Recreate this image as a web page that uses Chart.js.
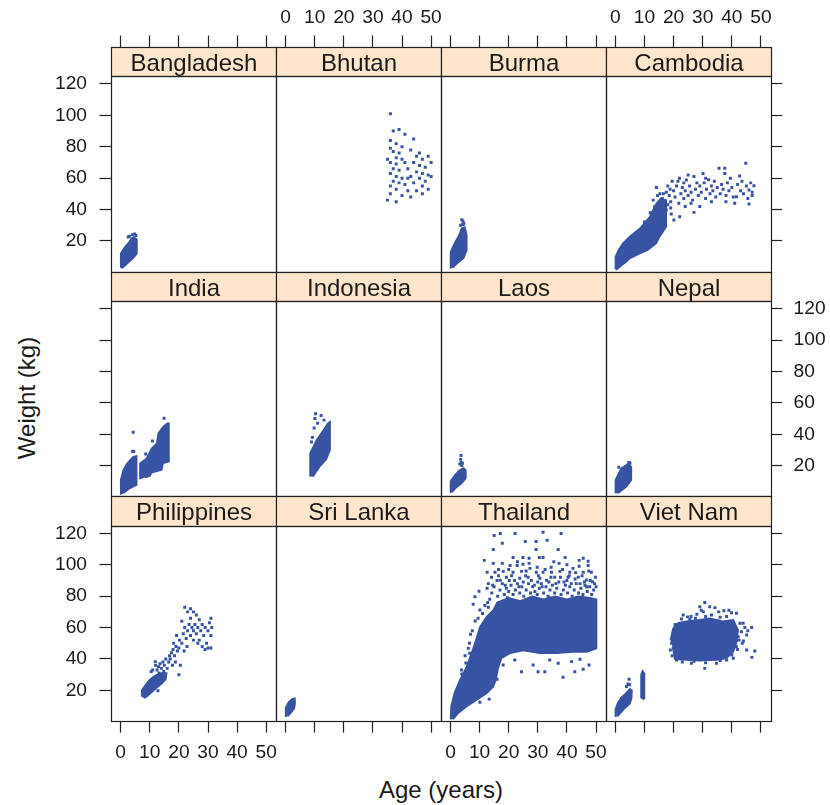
<!DOCTYPE html>
<html lang="en">
<head>
<meta charset="UTF-8">
<title>Weight by age, by country</title>
<script src="https://cdn.jsdelivr.net/npm/chart.js"></script>
<style>
  body { margin: 0; background: #fff; }
  #wrap { position: relative; width: 830px; height: 805px; font-family: "Liberation Sans", Arial, sans-serif; color: #1a1a1a; }
  #wrap canvas { position: absolute; left: 0; top: 0; }
  .lab { position: absolute; font-size: 24px; line-height: 24px; white-space: nowrap; }
  #xlab { left: 441px; top: 778px; transform: translateX(-50%); }
  #ylab { left: 27px; top: 398px; transform: translate(-50%, -50%) rotate(-90deg); }
</style>
</head>
<body>
<div id="wrap">
  <div class="lab" id="xlab">Age (years)</div>
  <div class="lab" id="ylab">Weight (kg)</div>
</div>

<script>
const countries = ['Bangladesh', 'Bhutan', 'Burma', 'Cambodia',
                   'India', 'Indonesia', 'Laos', 'Nepal',
                   'Philippines', 'Sri Lanka', 'Thailand', 'Viet Nam'];
const ageTicks = [0, 10, 20, 30, 40, 50];
const weightTicks = [20, 40, 60, 80, 100, 120];

// dense parts of each cloud as outlines [age, weight], loose points as [age, weight]
const bangladeshDense = [[[0,3],[0,12],[1,15],[2,17.5],[3,19.5],[3.6,21.5],[4.5,22.5],[5.6,21],[5.6,12],[4.5,9.5],[2.5,6],[1,3.5],[0.3,2.5]]];
const bangladeshPts = [[4,24],[3,23],[5.2,23.5],[2.6,22.5],[4.8,24.5]];

const bhutanDense = [];
const bhutanPts = [[36,101],[37,90],[39,91],[41,88],[36,84],[38,82],[40,80],[36,79],[37,77],[39,76],[43,78],[45,74],
  [38,73],[40,72],[47,72],[49,74],[36,70],[38,69],[41,70],[44,70],[46,68],[48,67],[50,70],[37,66],[39,65],[42,66],
  [45,64],[47,63],[49,62],[36,63],[38,61],[40,60],[43,61],[46,60],[48,58],[50,61],[37,58],[39,57],[41,56],[44,57],
  [47,55],[36,55],[38,53],[42,52],[45,52],[49,53],[36,50],[40,49],[43,48],[47,50],[35,46],[38,45],[42,60],[44,85],
  [46,76],[35,72]];

const burmaDense = [[[0,2.5],[0,13],[1.5,19],[3,24],[3.8,28],[4.9,29],[5.6,24],[5.6,14],[4.5,9],[2.5,6],[0.8,3]]];
const burmaPts = [[3.9,33.5],[4.3,32.5],[4.6,31],[4.2,30.5],[3.5,30]];

const cambodiaDense = [[[0,2],[0,10],[1,14],[2.6,18.5],[5,23],[8.4,28],[11.8,35.5],[13,40],[14.1,44],[15.5,47],[17.5,46],
  [17.5,29],[15,22],[14.1,18.5],[11,14],[8.4,12],[5,9],[3.8,6.8],[1.5,3.5],[0.3,1.5]]];
const cambodiaPts = [[14.1,54],[13,46],[15.3,50],[17.5,51],[16.1,47],[18.5,49],[19,45],[20,52],[20.5,48],[21,55],
  [21.8,44],[22.1,35.4],[20.1,33.3],[19.2,37.2],[17.5,39.7],[16.5,42],[22.5,50],[23,54],[23.5,47],[24,52],[24.4,58.8],
  [25,49],[25.5,55],[26,51],[26.5,46],[27,61],[27,38.2],[27.5,53],[28,57],[28.5,49],[29,55],[29.5,51],[30.1,63],
  [30.5,57],[31,47],[31.3,53],[32,59],[32.5,50],[33,55],[33.5,52],[34,58],[34.5,48],[35,54],[35.6,66.3],[36,50],
  [36.5,56],[37,53],[37.6,66.3],[37.6,63],[38,49],[38.5,57],[39,52],[39.5,60],[40,54],[40.5,48],[41,44],[41.6,48.2],
  [42,56],[42.7,61.4],[43,52],[43.5,58],[44,50],[44.8,69.5],[45,55],[45.5,47],[45.9,52.4],[45.9,43.5],[46.5,57],
  [47,51],[47.6,55.2],[47,49],[26,44],[24,42],[29,42],[33,45],[38,45],[18,55],[19.5,58],[22,60],[25,62],[31,60],
  [16,44],[18,43],[17,36],[15,30],[19,41],[14.5,49],[16.5,50],[12,38],[10,32],[13.5,42],[18.8,53],[21.5,58],[23.5,57]];

const indiaDense = [
  [[0,1.5],[0,11],[0.9,17.3],[2,21],[3.2,23.6],[4.3,25.7],[5.5,26.2],[5.5,7.7],[3.2,5.6],[1,2.4]],
  [[6.6,11.3],[6.6,21.5],[8.9,24.7],[10.6,31],[12.4,34.3],[12.9,40.6],[14.6,44.9],[16,47],[16.6,47],[16.6,22.5],
   [14.6,21.5],[14.1,17.3],[10.6,15.5],[10,13.4],[8.3,12.5]]];
const indiaPts = [[4.3,41.3],[4.5,29],[4.1,29.2],[14.9,50.2],[10.9,35.7],[8.6,27.4]];

const indonesiaDense = [[[8.4,13],[8.4,28],[9.5,32],[10.5,36],[12,40],[13.5,44],[14.5,47],[15.3,48],[15.3,30],
  [14,24],[12,20],[10.5,16],[9.5,13]]];
const indonesiaPts = [[10.3,53],[10.1,50],[11,47],[9.8,44],[12.2,52],[13.2,49],[9.2,38],[8.9,35]];

const laosDense = [[[0,2.5],[0,10],[1.5,14],[3,17],[4.5,18.5],[5.3,17],[5.3,12],[4,9],[2,6],[0.5,3]]];
const laosPts = [[3.6,26.5],[3.5,24],[3.7,22],[3.2,21],[4.1,21.5],[3.9,20]];

const nepalDense = [[[0,2.4],[0,10.9],[2,18.3],[4.3,21.1],[5.5,19.4],[5.5,10.9],[3.8,6.6],[1,2.4]]];
const nepalPts = [[1.2,19],[4.6,22],[5,21.5]];

const philippinesDense = [[[7.2,16],[7.2,20],[8.5,23.5],[9.5,26],[11,28.5],[12.4,30],[14,31],[15.8,31],[15.5,27],
  [14,24],[12,21],[10.5,18.5],[9,16],[8,15]]];
const philippinesPts = [[12.5,33],[13,35],[13.5,37],[14,34],[14.5,38],[15,36],[15.5,40],[13.2,31],[14.8,32],[16,34],
  [16.5,38],[16.8,42],[12,36],[11,33],[10.5,32],[17,40],[17.5,44],[18,46],[18.5,42],[19,48],[19.5,45],[18.2,50],
  [17.8,36],[20,47],[20.2,52],[19.2,55],[20.5,36],[20,30],[18.8,38],[21,50],[21.5,56],[22,60],[22.5,53],[23,58],
  [23.5,62],[24,55],[24.5,60],[22,73],[23,70],[21,64],[24,66],[25,58],[25,52],[22.8,48],[21.8,45],[25.5,62],[26,56],
  [26.5,60],[27,52],[27.5,58],[28,62],[28.5,55],[29,60],[29.5,50],[30,58],[30.5,63],[31,66],[31,47],[30,47],[29,46],
  [28,48],[27,65],[26,68],[25,70],[24,72],[26.5,50],[31,55],[31.3,60],[12.8,19.8],[11.9,38.3]];

const sriLankaDense = [[[0,3],[0,9],[1,12.5],[2.2,14.5],[3.2,15],[3.3,12],[3,8.5],[2,6],[0.8,3.5]]];
const sriLankaPts = [];

const thailandDense = [[[0,1.5],[0.2,9.6],[1.3,18.1],[3.2,26.5],[5.5,35],[7.2,43.6],[8.7,52],[10.1,60.5],[12.4,66.9],
  [14.7,71.2],[16,76],[20,79],[24,77],[28,80],[32,78],[36,80],[40,78],[44,80],[48,79],[50.2,78],[50.2,46.7],
  [46.8,44.5],[42.1,44.5],[36.4,43.6],[30.7,43.6],[25,45.3],[20.4,43.6],[17.5,40.4],[16.4,34],[15.6,26.5],[14.7,22.3],
  [12.4,18.1],[8.9,13.8],[5.5,9.6],[2.6,5.3],[0.9,1.5]]];
const thailandPts = [[15,118.7],[17.1,120],[22.2,120],[31.8,120.7],[38,120],[17.8,113.7],[25.7,114.9],[29.4,114.9],
  [33.2,115.6],[14.7,109.8],[29.4,109.8],[37,109.8],[21.5,104.7],[24.9,104.7],[27,104.1],[30.5,104.7],[31.8,104.7],
  [39.4,104.7],[45.6,104.1],[11.6,102.8],[14.7,100.9],[17.8,100.9],[20.5,99.6],[22.9,99.6],[24.9,100.3],[27,100.9],
  [29.8,98.4],[34.6,98.4],[37.3,100.9],[44.2,102.8],[47.3,102.2],[47.3,99.6],[42.1,97.7],[44.2,99],[12.6,95.2],
  [15.3,95.2],[18.1,95.8],[21.5,95.2],[24.4,95.8],[27.3,97.7],[29.5,95.2],[31.8,95.2],[34.7,95.2],[37.6,95.8],
  [41,95.2],[45.6,95.2],[48.4,95.2],[14.1,92],[17.1,90.1],[19.2,92],[23.8,91.4],[26.7,92],[30.7,91.4],[33,90.1],
  [35.8,92],[40.4,92],[43.9,92],[46.7,90.3],[48.8,89.2],[9.8,83.1],[12.6,85],[8.4,79.6],[7.8,74.8],[10.1,71.2],
  [8.5,64.2],[6.9,55.7],[6.1,46.8],[6.6,43.6],[5.3,37.4],[3.9,30.4],[3.2,24.6],[2.1,19.2],[13.3,14.4],[10.1,12.4],
  [16,27],[18.1,36.2],[24.4,31.9],[30.1,31.9],[32.4,31.9],[38.7,28.3],[42.7,31.9],[45.6,33.4],[47.6,36.2],[28.4,36.2],
  [34.1,39.3],[37,37.2],[22.1,39.3],[41.6,38.3],[44.5,39.8],
  [13.5,78],[14.2,82],[15,86],[16.2,80],[17,84],[17.8,88],[18.5,81],[19.2,85],[20,83],[20.8,87],[21.5,81],[22.3,84],
  [23,88],[23.8,82],[24.5,86],[25.2,80],[26,84],[26.8,88],[27.5,82],[28.2,86],[29,83],[29.8,81],[30.5,85],[31.2,88],
  [32,82],[32.8,86],[33.5,80],[34.2,84],[35,87],[35.8,82],[36.5,85],[37.2,89],[38,81],[38.8,84],[39.5,87],[40.2,82],
  [41,86],[41.8,80],[42.5,84],[43.2,88],[44,82],[44.8,85],[45.5,81],[46.2,87],[47,83],[47.8,86],[48.5,81],[49.2,84],
  [50,86],[16,90],[22,90],[30,89],[40,90],[46,89],[12.8,76],[19.5,79],[34,79],[43.5,79],
  [9.5,66],[11,69],[7.5,58],[6.5,50],[5,42],[3.8,33],[11.8,74],[13,73],
  [13,88],[14.5,87],[16.5,93],[18.8,87],[20.2,90],[21,93],[23.5,86],[25,89],[25.8,93],[27.8,90],[28.8,87],[30.2,93],
  [31.5,86],[33.8,89],[34.5,92],[36.2,88],[37.8,92],[39,89],[40.8,93],[41.5,88],[42.8,91],[44.5,88],[45.2,93],
  [46.8,86],[48,90],[49.5,88],[49.8,92],[47.5,96],[43,95],[38.5,97],[32.5,97],[26,96],[20,97],[16.5,97],[23,102],
  [35.5,102],[40,100]];

const vietNamDense = [
  [[0,3],[0,8],[0.8,12],[2,15.5],[3.5,18],[5,21],[5.7,20],[5.6,15],[5,11.5],[3.5,9],[2,6],[0.8,3.5]],
  [[8.8,15],[8.8,30],[9.3,32.5],[9.9,31],[10,15],[9.5,14]],
  [[18.9,52.1],[19.8,59.5],[21.5,63],[24.4,64],[29,65],[32.4,66],[37,64],[40.5,65],[42.2,58.4],[41.6,50],[40.5,44.6],
   [38.2,40.4],[34.7,39.3],[29,38.9],[24.4,39.3],[20.4,39.8],[19.6,47.8]]];
const vietNamPts = [[4.7,27],[4.3,24],[3.8,22.5],[4.9,23.5],[30.7,76],[29,73.3],[32.4,73.3],[34.2,72.7],[30.2,70.1],
  [37.3,70.7],[39.9,69.5],[41.6,69.1],[23.3,68],[22.7,65.5],[25.6,65.2],[27.3,63.7],[38.2,67],[42.8,62.7],[43.9,62.7],
  [46.8,60.1],[43.3,57.3],[42.2,54.2],[45.1,55.2],[41.6,52.1],[43.6,50],[41.6,47.8],[45.1,45.7],[47.9,45],[46.9,41],
  [40.5,40.4],[38.2,39.3],[34.7,37.2],[30.7,34],[26.1,37.2],[21,39.3],[19.3,50],[18.9,45.7],[26,67],[28,68.5],
  [33,68],[35.5,70],[31,67],[36,66.5],[20.5,62],[44.5,60],
  [19.5,42],[20,55],[22,61.5],[24,62],[28,62.5],[33,63.5],[38.5,62],[41,60],[42.5,52],[42,46],[40,42.5],[36,39],
  [31,37.5],[27,38.5],[23,38],[20.5,44],[44,51.5],[45.5,58],[39,71],[27.5,66],[24.8,66.8],[35,64.5],[29.5,71]];

const denseAreas = [bangladeshDense, bhutanDense, burmaDense, cambodiaDense, indiaDense, indonesiaDense,
                    laosDense, nepalDense, philippinesDense, sriLankaDense, thailandDense, vietNamDense];
const loosePoints = [bangladeshPts, bhutanPts, burmaPts, cambodiaPts, indiaPts, indonesiaPts,
                     laosPts, nepalPts, philippinesPts, sriLankaPts, thailandPts, vietNamPts];

const BLUE = '#3953a4', INK = '#222222', TEXT = '#1a1a1a', STRIP = '#ffe5cc';
const FONT = '"Liberation Sans", Arial, Helvetica, sans-serif';
const W = 830, H = 805;
const gridLeft = 111, colW = 164.9, gridTop = 47, stripH = 29.3, panelH = 195.4;
const tickLen = 11.5;
// room reserved for each outer axis (ticks + labels), Chart.js clips labels to it
const boxTop = 72, boxBottom = 50, boxLeft = 60, boxRight = 57;
const ageMin = -3.33, ageMax = 53.33, wtMin = 0.4, wtMax = 124.9;

// strip with country name on top of each panel, and the panel frame
const stripPlugin = {
  id: 'strip',
  afterDraw(chart, args, opts) {
    const ctx = chart.ctx, a = chart.chartArea;
    const l = Math.round(a.left) + 0.5, r = Math.round(a.right) + 0.5;
    const t = Math.round(a.top) + 0.5, b = Math.round(a.bottom) + 0.5;
    const st = Math.round(a.top - stripH) + 0.5;
    ctx.save();
    ctx.fillStyle = STRIP;
    ctx.fillRect(l, st, r - l, t - st);
    ctx.strokeStyle = INK;
    ctx.lineWidth = 1.2;
    ctx.strokeRect(l, st, r - l, t - st);
    ctx.strokeRect(l, t, r - l, b - t);
    ctx.fillStyle = TEXT;
    ctx.font = '24px ' + FONT;
    ctx.textAlign = 'center';
    ctx.textBaseline = 'alphabetic';
    ctx.fillText(opts.name, (l + r) / 2, st + 23);
    ctx.restore();
  }
};

const wrap = document.getElementById('wrap');

countries.forEach((name, i) => {
  const col = i % 4, row = Math.floor(i / 4);
  const left = gridLeft + col * colW, right = left + colW;
  const top = gridTop + row * (stripH + panelH) + stripH, bottom = top + panelH;
  const xBox = row === 0 ? boxTop : row === 2 ? boxBottom : 0;
  const yBox = col === 0 ? boxLeft : col === 3 ? boxRight : 0;
  const xLabels = (row === 0 && col % 2 === 1) || (row === 2 && col % 2 === 0);
  const yLabels = (col === 0 && row !== 1) || (col === 3 && row === 1);

  const canvas = document.createElement('canvas');
  canvas.width = W;
  canvas.height = H;
  wrap.appendChild(canvas);

  const datasets = denseAreas[i].map(poly => ({
    data: poly.map(([x, y]) => ({ x, y })),
    showLine: true,
    fill: 'shape',
    tension: 0,
    borderColor: BLUE,
    backgroundColor: BLUE,
    borderWidth: 1.5,
    pointRadius: 0
  }));
  datasets.push({
    data: loosePoints[i].map(([x, y]) => ({ x, y })),
    pointStyle: 'rect',
    pointRadius: 2.1,
    pointBorderWidth: 0,
    backgroundColor: BLUE,
    borderColor: BLUE
  });

  new Chart(canvas, {
    type: 'scatter',
    data: { datasets },
    options: {
      responsive: false,
      animation: false,
      events: [],
      layout: {
        padding: {
          left: left - (col === 0 ? yBox : 0),
          right: W - right - (col === 3 ? yBox : 0),
          top: top - (row === 0 ? xBox : 0),
          bottom: H - bottom - (row === 2 ? xBox : 0)
        }
      },
      plugins: {
        legend: { display: false },
        tooltip: { enabled: false },
        strip: { name }
      },
      scales: {
        x: {
          type: 'linear',
          min: ageMin,
          max: ageMax,
          position: row === 0 ? 'top' : 'bottom',
          display: row !== 1,
          afterBuildTicks: s => { s.ticks = ageTicks.map(value => ({ value })); },
          afterFit: s => { s.height = xBox; },
          grid: {
            drawOnChartArea: false,
            tickLength: row === 0 ? stripH + tickLen : tickLen,
            tickColor: INK,
            tickWidth: 1.2
          },
          border: { display: false },
          ticks: {
            autoSkip: false,
            maxRotation: 0,
            padding: row === 0 ? 6.3 : 8.6,
            color: TEXT,
            font: { family: FONT, size: 19.2 },
            callback: v => xLabels ? String(v) : ''
          }
        },
        y: {
          type: 'linear',
          min: wtMin,
          max: wtMax,
          position: col === 3 ? 'right' : 'left',
          display: yBox > 0,
          afterBuildTicks: s => { s.ticks = weightTicks.map(value => ({ value })); },
          afterFit: s => { s.width = yBox; },
          grid: {
            drawOnChartArea: false,
            tickLength: tickLen,
            tickColor: INK,
            tickWidth: 1.2
          },
          border: { display: false },
          ticks: {
            autoSkip: false,
            padding: col === 0 ? 12.5 : 11.5,
            color: TEXT,
            font: { family: FONT, size: 19.2 },
            callback: v => yLabels ? String(v) : ''
          }
        }
      }
    },
    plugins: [stripPlugin]
  });
});
</script>
</body>
</html>
